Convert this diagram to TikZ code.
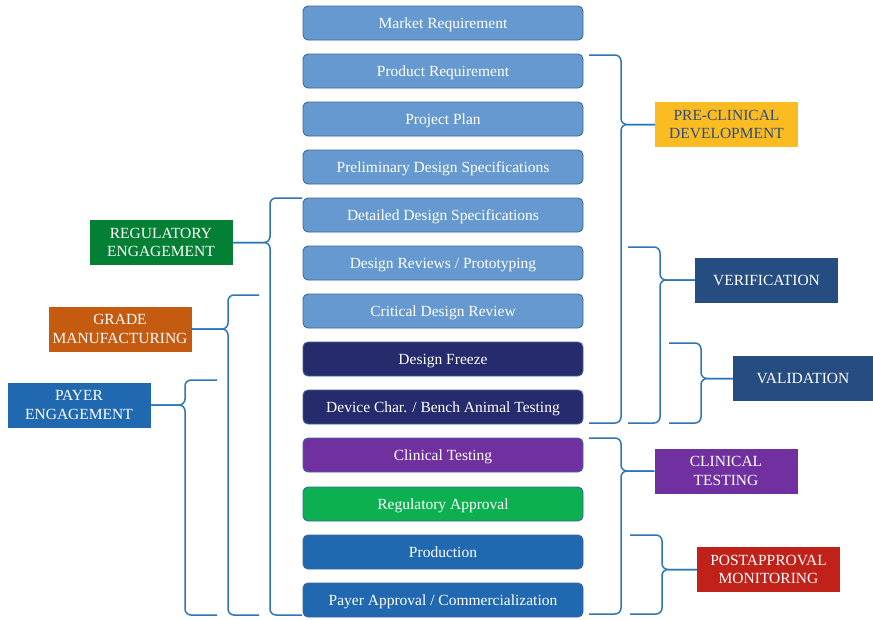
\documentclass[tikz,border=0pt]{standalone}
\usepackage{fontspec}
\setmainfont{Liberation Serif}
\definecolor{stepfill}{RGB}{102,153,207}
\definecolor{stepline}{RGB}{62,102,160}
\definecolor{navyfill}{RGB}{38,43,110}
\definecolor{purplefill}{RGB}{112,48,160}
\definecolor{greenfill}{RGB}{12,176,80}
\definecolor{bluefill}{RGB}{32,104,176}
\definecolor{bracecol}{RGB}{46,117,182}
\definecolor{goldfill}{RGB}{251,188,34}
\definecolor{goldtext}{RGB}{47,75,125}
\definecolor{phasefill}{RGB}{38,77,130}
\definecolor{redfill}{RGB}{192,34,26}
\definecolor{regfill}{RGB}{3,128,51}
\definecolor{orangefill}{RGB}{197,90,17}
\tikzset{
  stepbox/.style={draw=stepline, line width=0.9pt, fill=#1, rounded corners=5pt,
    minimum width=280pt, minimum height=34pt, text=white, inner sep=0pt,
    text height=11.5pt, text depth=0pt,
    font=\fontsize{15.5}{17}\selectfont},
  stepbox/.default=stepfill,
  phase/.style={fill=#1, text=white, minimum width=143pt, minimum height=45pt,
    inner sep=0pt, align=center, font=\fontsize{15.5}{18.5}\selectfont},
  brace/.style={draw=bracecol, line width=1.5pt, rounded corners=6pt},
}
% curly bracket: #1 arm end x, #2 spine x, #3 top y, #4 bottom y, #5 label node
\newcommand\curlyset[5]{%
  \coordinate (#5-t) at (#1,#3);
  \coordinate (#5-b) at (#1,#4);
  \draw[brace] (#5-t) -- (#2,#3) |- (#5);
  \draw[brace] (#5-b) -- (#2,#4) |- (#5);
}
\begin{document}
\begin{tikzpicture}[x=1pt,y=-1pt]
\useasboundingbox (0,0) rectangle (873,619);

% process steps
\node[stepbox] (b1)  at (443,23)  {Market Requirement};
\node[stepbox] (b2)  at (443,71)  {Product Requirement};
\node[stepbox] (b3)  at (443,119) {Project Plan};
\node[stepbox] (b4)  at (443,167) {Preliminary Design Specifications};
\node[stepbox] (b5)  at (443,215) {Detailed Design Specifications};
\node[stepbox] (b6)  at (443,263) {Design Reviews / Prototyping};
\node[stepbox] (b7)  at (443,311) {Critical Design Review};
\node[stepbox=navyfill]   (b8)  at (443,359) {Design Freeze};
\node[stepbox=navyfill]   (b9)  at (443,407) {Device Char. / Bench Animal Testing};
\node[stepbox=purplefill] (b10) at (443,455) {Clinical Testing};
\node[stepbox=greenfill]  (b11) at (443,504) {Regulatory Approval};
\node[stepbox=bluefill]   (b12) at (443,552) {Production};
\node[stepbox=bluefill]   (b13) at (443,600) {Payer Approval / Commercialization};

% phase labels
\node[phase=goldfill, text=goldtext] (pc) at (726.5,124.5) {PRE-CLINICAL\\DEVELOPMENT};
\node[phase=phasefill] (ver) at (766.5,280) {VERIFICATION};
\node[phase=phasefill, minimum width=140pt] (val) at (803,378.5) {VALIDATION};
\node[phase=purplefill] (ct) at (726,471) {CLINICAL\\TESTING};
\node[phase=redfill] (pam) at (768.5,569.5) {POSTAPPROVAL\\MONITORING};
\node[phase=regfill] (reg) at (161,242.5) {REGULATORY\\ENGAGEMENT};
\node[phase=orangefill] (gm) at (120,329) {GRADE\\MANUFACTURING};
\node[phase=bluefill] (pe) at (79,405) {PAYER\\ENGAGEMENT};

% brackets
\curlyset{589}{621}{55}{423}{pc}
\curlyset{628}{660}{247}{423}{ver}
\curlyset{669}{701}{343}{423}{val}
\curlyset{589}{621}{438}{614}{ct}
\curlyset{630}{662}{535}{614}{pam}
\curlyset{302}{270}{198}{615}{reg}
\curlyset{259}{228}{295}{615}{gm}
\curlyset{217}{185}{380}{615}{pe}
\end{tikzpicture}
\end{document}
